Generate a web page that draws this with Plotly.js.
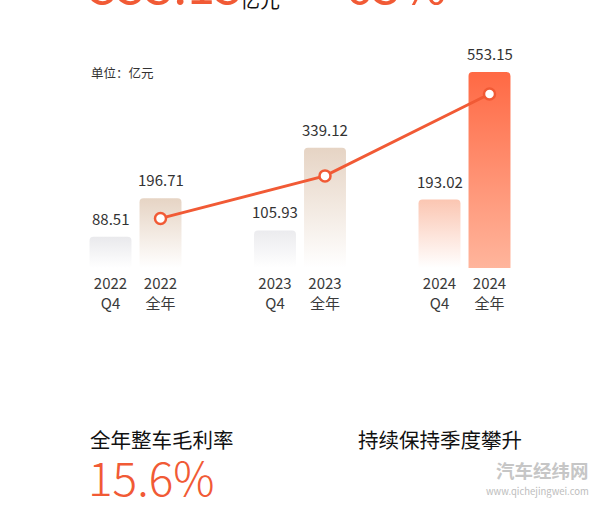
<!DOCTYPE html>
<html>
<head>
<meta charset="utf-8">
<script src="https://cdn.plot.ly/plotly-3.0.1.min.js"></script>
<style>
  html, body { margin: 0; padding: 0; background: #ffffff; }
  #chart { width: 600px; height: 518px; }
</style>
</head>
<body>
<div id="chart"></div>
<script>
// ---- data ----
const years = ["2022", "2023", "2024"];
const q4Revenue = [88.51, 105.93, 193.02];      // 亿元, Q4
const fullYearRevenue = [196.71, 339.12, 553.15]; // 亿元, 全年
const trendLine = [140, 260, 491];               // decorative trend line through 全年 bars
const q4Suffix = "Q4";
const fySuffix = "全年";

// ---- styles ----
const FONT = '"Noto Sans CJK SC", "Noto Sans", sans-serif';
const ORANGE = '#f15a35';
const q4Grad = [['#e9e9ec', '#ffffff'], ['#ebebee', '#ffffff'], ['#fbc6b2', '#ffffff']];
const fyGrad = [['#e6d4c4', '#ffffff'], ['#e6d4c4', '#ffffff'], ['#ff6944', '#ffb59c']];

const data = [
  {
    type: 'bar', x: years, y: q4Revenue, xaxis: 'x', yaxis: 'y',
    width: 0.255, marker: { color: '#eeeeee', cornerradius: 4, line: { width: 0 } },
    hoverinfo: 'none'
  },
  {
    type: 'bar', x: years, y: fullYearRevenue, xaxis: 'x2', yaxis: 'y',
    width: 0.255, marker: { color: '#e6d4c4', cornerradius: 4, line: { width: 0 } },
    hoverinfo: 'none'
  },
  {
    type: 'scatter', mode: 'lines+markers', x: years, y: trendLine, xaxis: 'x2', yaxis: 'y',
    line: { color: ORANGE, width: 3 },
    marker: { size: 11, color: '#ffffff', line: { color: ORANGE, width: 2.5 } },
    hoverinfo: 'none'
  }
];

const labelFont = { family: FONT, size: 15, color: '#333333' };
const annotations = [];
years.forEach((yr, i) => {
  annotations.push({ xref: 'x', yref: 'y', x: i, y: q4Revenue[i], text: q4Revenue[i].toFixed(2),
    showarrow: false, yanchor: 'bottom', yshift: 6, font: labelFont });
  annotations.push({ xref: 'x2', yref: 'y', x: i, y: fullYearRevenue[i], text: fullYearRevenue[i].toFixed(2),
    showarrow: false, yanchor: 'bottom', yshift: 6, font: labelFont });
});

// helper: pixel -> paper (plot area is x 0..600, y 0..268 px)
const PH = 268;
const px = v => v / 600;
const py = v => (PH - v) / PH;

annotations.push(
  { xref: 'paper', yref: 'paper', x: px(88), y: py(20), xanchor: 'left', yanchor: 'bottom', showarrow: false,
    text: '553.15', font: { family: FONT, size: 50, color: ORANGE } },
  { xref: 'paper', yref: 'paper', x: px(238), y: py(16), xanchor: 'left', yanchor: 'bottom', showarrow: false,
    text: '亿元', font: { family: FONT, size: 20, color: '#111111' } },
  { xref: 'paper', yref: 'paper', x: px(343), y: py(20), xanchor: 'left', yanchor: 'bottom', showarrow: false,
    text: '63%', font: { family: FONT, size: 50, color: ORANGE } },
  { xref: 'paper', yref: 'paper', x: px(89), y: py(72), xanchor: 'left', yanchor: 'middle', showarrow: false,
    text: '单位：亿元', font: { family: FONT, size: 12.5, color: '#333333' } },
  { xref: 'paper', yref: 'paper', x: px(88), y: py(439), xanchor: 'left', yanchor: 'middle', showarrow: false,
    text: '全年整车毛利率', font: { family: FONT, size: 20.5, color: '#111111', weight: 400 } },
  { xref: 'paper', yref: 'paper', x: px(86), y: py(476), xanchor: 'left', yanchor: 'middle', showarrow: false,
    text: '15.6%', font: { family: FONT, size: 46, color: ORANGE, weight: 300 } },
  { xref: 'paper', yref: 'paper', x: px(356), y: py(439), xanchor: 'left', yanchor: 'middle', showarrow: false,
    text: '持续保持季度攀升', font: { family: FONT, size: 20.5, color: '#111111', weight: 400 } },
  { xref: 'paper', yref: 'paper', x: px(591), y: py(470), xanchor: 'right', yanchor: 'middle', showarrow: false,
    text: '<b>汽车经纬网</b>', font: { family: FONT, size: 18.5, color: '#c6c6c6' } },
  { xref: 'paper', yref: 'paper', x: px(591), y: py(491), xanchor: 'right', yanchor: 'middle', showarrow: false,
    text: 'www.qichejingwei.com', font: { family: FONT, size: 9.5, color: '#bdbdbd' } }
);

const tickFont = { family: FONT, size: 15, color: '#3a3a3a' };
const layout = {
  width: 600, height: 518,
  margin: { l: 0, r: 0, t: 0, b: 518 - PH },
  paper_bgcolor: '#ffffff', plot_bgcolor: 'rgba(0,0,0,0)',
  showlegend: false,
  xaxis: {
    type: 'category', range: [-0.6717, 2.9757], showgrid: false, zeroline: false, showline: false,
    ticks: '', ticklabelstandoff: 5, tickvals: years, ticktext: years.map(y => y + '<br>' + q4Suffix),
    tickfont: tickFont, fixedrange: true
  },
  xaxis2: {
    type: 'category', overlaying: 'x', anchor: 'y', side: 'bottom', range: [-0.9757, 2.6717],
    showgrid: false, zeroline: false, showline: false,
    ticks: '', ticklabelstandoff: 5, tickvals: years, ticktext: years.map(y => y + '<br>' + fySuffix),
    tickfont: tickFont, fixedrange: true
  },
  yaxis: { range: [0, 756.4], visible: false, showgrid: false, zeroline: false, fixedrange: true },
  annotations: annotations,
  font: { family: FONT }
};

Plotly.newPlot('chart', data, layout, { staticPlot: true, displayModeBar: false }).then(gd => {
  const ns = 'http://www.w3.org/2000/svg';
  const svg = gd.querySelector('.main-svg');
  let defs = svg.querySelector('defs');
  if (!defs) { defs = document.createElementNS(ns, 'defs'); svg.insertBefore(defs, svg.firstChild); }
  function addGrad(id, top, bottom) {
    const g = document.createElementNS(ns, 'linearGradient');
    g.setAttribute('id', id); g.setAttribute('x1', '0'); g.setAttribute('y1', '0');
    g.setAttribute('x2', '0'); g.setAttribute('y2', '1');
    [[0, top], [1, bottom]].forEach(([o, c]) => {
      const s = document.createElementNS(ns, 'stop');
      s.setAttribute('offset', o); s.setAttribute('stop-color', c);
      g.appendChild(s);
    });
    defs.appendChild(g);
  }
  const grads = [q4Grad, fyGrad];
  const traces = gd.querySelectorAll('.barlayer .trace.bars');
  traces.forEach((t, ti) => {
    t.querySelectorAll('.point path').forEach((p, i) => {
      const id = 'bg' + ti + '_' + i;
      addGrad(id, grads[ti][i][0], grads[ti][i][1]);
      p.style.fill = 'url(#' + id + ')';
    });
  });
});
</script>
</body>
</html>
